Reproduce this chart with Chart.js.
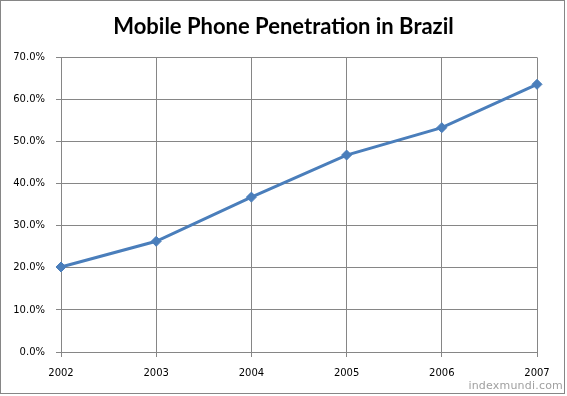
<!DOCTYPE html>
<html>
<head>
<meta charset="utf-8">
<script src="https://cdn.jsdelivr.net/npm/chart.js@4/dist/chart.umd.min.js"></script>
<style>
  html, body { margin: 0; padding: 0; background: #fff; }
  #wrap { position: relative; width: 567px; height: 396px; }
  #wm { position: absolute; right: 4px; top: 379px; font-family: "DejaVu Sans", sans-serif; font-size: 11px; color: #a0a0a0; letter-spacing: 0.2px; }
</style>
</head>
<body>
<div id="wrap">
  <canvas id="c" width="567" height="396"></canvas>
  <div id="wm">indexmundi.com</div>
</div>
<script>
const years = ["2002", "2003", "2004", "2005", "2006", "2007"];
const penetration = [20.2, 26.3, 36.8, 46.8, 53.3, 63.6];
const yMax = 70;
const yStep = 10;
const titleText = "Mobile Phone Penetration in Brazil";

const borderPlugin = {
  id: 'outerBorder',
  beforeDraw(chart) {
    const ctx = chart.ctx;
    ctx.save();
    ctx.fillStyle = '#ffffff';
    ctx.fillRect(0, 0, chart.width, chart.height);
    ctx.strokeStyle = '#868686';
    ctx.lineWidth = 1;
    ctx.strokeRect(0.5, 0.5, 564, 393);
    ctx.restore();
  }
};

new Chart(document.getElementById('c'), {
  type: 'line',
  data: {
    labels: years,
    datasets: [{
      data: penetration,
      borderColor: '#4a7ebb',
      backgroundColor: '#4a7ebb',
      borderWidth: 3,
      pointStyle: 'rectRot',
      pointRadius: 5,
      pointBorderWidth: 1,
      tension: 0
    }]
  },
  options: {
    responsive: false,
    animation: false,
    layout: { padding: 0 },
    plugins: {
      legend: { display: false },
      tooltip: { enabled: false },
      title: {
        display: true,
        text: titleText,
        color: '#000',
        font: { family: 'Lato', size: 22, weight: 'bold' },
        padding: { top: 14, bottom: 17 }
      }
    },
    scales: {
      x: {
        offset: false,
        grid: { color: '#868686', lineWidth: 1, tickLength: 5, drawTicks: true },
        border: { color: '#868686' },
        ticks: { color: '#000', font: { family: 'DejaVu Sans', size: 10 }, padding: 10, maxRotation: 0 },
        afterFit(s) { s.height = 44; }
      },
      y: {
        min: 0,
        max: yMax,
        grid: { color: '#868686', lineWidth: 1, tickLength: 5 },
        border: { color: '#868686' },
        ticks: {
          stepSize: yStep,
          color: '#000',
          font: { family: 'DejaVu Sans', size: 10 },
          padding: 11,
          callback: v => v.toFixed(1) + '%'
        },
        afterFit(s) { s.width = 61; }
      },
      yRight: {
        position: 'right',
        min: 0,
        max: yMax,
        grid: { display: false },
        border: { display: false },
        ticks: { display: false },
        afterFit(s) { s.width = 30; }
      }
    }
  },
  plugins: [borderPlugin]
});
</script>
</body>
</html>
